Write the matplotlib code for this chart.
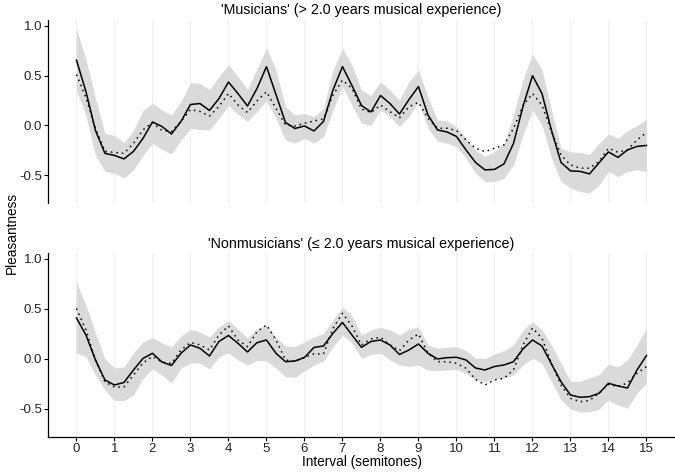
import numpy as np
import matplotlib
matplotlib.use("Agg")
import matplotlib.pyplot as plt

fonts_setting = {
    "font.family": ["Liberation Sans", "DejaVu Sans"],
    "font.size": 9.5,
    "xtick.labelsize": 9.5,
    "ytick.labelsize": 9.5,
}
plt.rcParams.update(fonts_setting)

# sample positions (semitones), every quarter semitone
semitones = np.arange(0, 15.001, 0.25)

# 'Musicians' panel
mus_fit = [0.655, 0.34, -0.05, -0.28, -0.30, -0.335, -0.26, -0.13, 0.035, -0.01, -0.085, 0.04,
           0.21, 0.22, 0.15, 0.27, 0.435, 0.32, 0.195, 0.37, 0.59, 0.31, 0.03, -0.03,
           -0.005, -0.055, 0.04, 0.355, 0.59, 0.40, 0.20, 0.135, 0.30, 0.22, 0.115, 0.26,
           0.39, 0.105, -0.045, -0.065, -0.11, -0.245, -0.37, -0.445, -0.44, -0.385, -0.18, 0.19,
           0.50, 0.32, -0.05, -0.37, -0.455, -0.46, -0.485, -0.375, -0.265, -0.32, -0.245, -0.21,
           -0.20]
mus_dot = [0.51, 0.28, -0.03, -0.26, -0.27, -0.28, -0.18, -0.045, 0.03, -0.05, -0.06, 0.04,
           0.16, 0.14, 0.095, 0.19, 0.32, 0.205, 0.13, 0.245, 0.338, 0.172, 0.005, -0.005,
           0.022, 0.045, 0.065, 0.305, 0.455, 0.372, 0.165, 0.13, 0.205, 0.138, 0.078, 0.188,
           0.232, 0.072, -0.028, -0.028, -0.05, -0.145, -0.228, -0.262, -0.228, -0.195, -0.03, 0.20,
           0.32, 0.205, -0.062, -0.295, -0.395, -0.428, -0.428, -0.362, -0.228, -0.268, -0.245, -0.145,
           -0.07]
mus_hi = [0.97, 0.66, 0.27, -0.08, -0.10, -0.17, -0.05, 0.15, 0.225, 0.155, 0.105, 0.24,
          0.43, 0.42, 0.36, 0.49, 0.61, 0.49, 0.36, 0.57, 0.775, 0.555, 0.19, 0.105,
          0.12, 0.088, 0.172, 0.555, 0.772, 0.605, 0.355, 0.30, 0.438, 0.355, 0.255, 0.438,
          0.555, 0.288, 0.055, 0.045, -0.012, -0.128, -0.245, -0.312, -0.262, -0.178, 0.105, 0.46,
          0.715, 0.56, 0.155, -0.228, -0.265, -0.27, -0.29, -0.18, -0.085, -0.13, -0.05, 0.0,
          0.06]
mus_lo = [0.355, 0.10, -0.30, -0.46, -0.48, -0.525, -0.445, -0.30, -0.18, -0.24, -0.285, -0.15,
          -0.03, -0.04, -0.045, 0.07, 0.20, 0.11, 0.04, 0.14, 0.25, 0.07, -0.145, -0.178,
          -0.128, -0.178, -0.112, 0.155, 0.388, 0.205, 0.022, 0.0, 0.155, 0.088, -0.012, 0.088,
          0.238, -0.028, -0.155, -0.178, -0.212, -0.328, -0.478, -0.562, -0.562, -0.528, -0.395, -0.095,
          0.155, 0.005, -0.328, -0.562, -0.628, -0.662, -0.678, -0.595, -0.462, -0.512, -0.462, -0.445,
          -0.462]

# 'Nonmusicians' panel
non_fit = [0.41, 0.24, -0.01, -0.21, -0.26, -0.235, -0.11, 0.005, 0.057, -0.03, -0.065, 0.057,
           0.14, 0.107, 0.03, 0.175, 0.235, 0.157, 0.07, 0.163, 0.19, 0.057, -0.027, -0.02,
           0.015, 0.115, 0.13, 0.257, 0.365, 0.24, 0.117, 0.175, 0.19, 0.14, 0.045, 0.09,
           0.15, 0.057, 0.0, 0.013, 0.017, -0.01, -0.09, -0.11, -0.075, -0.06, -0.027, 0.10,
           0.19, 0.13, -0.05, -0.227, -0.36, -0.383, -0.377, -0.343, -0.243, -0.27, -0.29, -0.11,
           0.035]
non_dot = [0.505, 0.29, -0.01, -0.23, -0.28, -0.28, -0.16, -0.04, 0.025, -0.03, -0.045, 0.09,
           0.165, 0.14, 0.09, 0.24, 0.33, 0.19, 0.123, 0.273, 0.34, 0.19, -0.01, -0.027,
           0.017, 0.05, 0.05, 0.307, 0.457, 0.33, 0.14, 0.20, 0.217, 0.14, 0.083, 0.19,
           0.25, 0.057, -0.027, -0.027, -0.043, -0.093, -0.203, -0.26, -0.21, -0.193, -0.11, 0.14,
           0.31, 0.207, -0.043, -0.26, -0.393, -0.427, -0.415, -0.343, -0.255, -0.275, -0.24, -0.143,
           -0.075]
non_hi = [0.77, 0.54, 0.26, 0.0, -0.09, -0.08, 0.06, 0.17, 0.215, 0.16, 0.12, 0.23,
          0.295, 0.27, 0.22, 0.32, 0.385, 0.30, 0.21, 0.30, 0.34, 0.22, 0.13, 0.125,
          0.17, 0.22, 0.255, 0.39, 0.52, 0.43, 0.24, 0.29, 0.317, 0.29, 0.24, 0.297,
          0.323, 0.14, 0.107, 0.117, 0.123, 0.083, 0.007, 0.007, 0.05, 0.083, 0.14, 0.29,
          0.373, 0.29, 0.14, -0.04, -0.223, -0.223, -0.19, -0.157, -0.05, -0.08, -0.01, 0.14,
          0.307]
non_lo = [0.06, 0.02, -0.16, -0.31, -0.415, -0.415, -0.36, -0.195, -0.10, -0.16, -0.24, -0.093,
          -0.04, -0.04, -0.10, 0.02, 0.06, -0.01, -0.06, -0.015, -0.02, -0.09, -0.177, -0.183,
          -0.12, -0.06, -0.02, 0.12, 0.24, 0.16, 0.007, 0.045, 0.06, -0.01, -0.06, -0.075,
          -0.06, -0.11, -0.117, -0.11, -0.105, -0.143, -0.21, -0.227, -0.203, -0.193, -0.16, -0.06,
          0.007, -0.043, -0.227, -0.41, -0.50, -0.53, -0.53, -0.50, -0.41, -0.46, -0.49, -0.343,
          -0.243]

titles = ["'Musicians' (> 2.0 years musical experience)",
          "'Nonmusicians' (\u2264 2.0 years musical experience)"]
x_ticks = list(range(0, 16))
y_ticks = [-0.5, 0.0, 0.5, 1.0]


def draw_panel(ax, fit, dot, lo, hi, title, show_x):
    ax.fill_between(semitones, lo, hi, color='#dadada', linewidth=0, zorder=1)
    ax.plot(semitones, fit, color='black', linewidth=1.1, zorder=3)
    ax.plot(semitones, dot, color='black', linewidth=1.1, linestyle=(0, (1, 2.6)), zorder=3)

    ax.set_xlim(-0.74, 15.75)
    ax.set_ylim(-0.777, 1.057)
    ax.set_xticks(x_ticks)
    ax.set_yticks(y_ticks)
    ax.set_yticklabels([f'{v:.1f}' for v in y_ticks])
    ax.grid(True, axis='x', color='#ebebeb', linewidth=0.6, zorder=0)
    ax.set_axisbelow(True)

    for side in ['top', 'right']:
        ax.spines[side].set_visible(False)
    ax.spines['left'].set_linewidth(0.9)
    ax.tick_params(axis='y', length=3, width=0.8, colors='black', labelcolor='#222222', pad=1.5)
    if show_x:
        ax.spines['bottom'].set_linewidth(0.9)
        ax.tick_params(axis='x', length=3, width=0.8, colors='black', labelcolor='#222222', pad=1.5)
    else:
        ax.spines['bottom'].set_visible(False)
        ax.tick_params(axis='x', length=0, labelbottom=False)
    ax.set_title(title, fontsize=10.3, pad=4)


def main():
    fig = plt.figure(figsize=(6.75, 4.76), dpi=100)
    ax_top = fig.add_axes([0.0716, 0.5735, 0.9284, 0.3845])
    ax_bot = fig.add_axes([0.0716, 0.0826, 0.9284, 0.3853])

    draw_panel(ax_top, mus_fit, mus_dot, mus_lo, mus_hi, titles[0], False)
    draw_panel(ax_bot, non_fit, non_dot, non_lo, non_hi, titles[1], True)

    ax_bot.set_xlabel('Interval (semitones)', fontsize=9.8, labelpad=0)
    fig.text(0.017, 0.51, 'Pleasantness', rotation=90, fontsize=9.8,
             ha='center', va='center')

    plt.savefig('out.png', dpi=100)


if __name__ == "__main__":
    main()
